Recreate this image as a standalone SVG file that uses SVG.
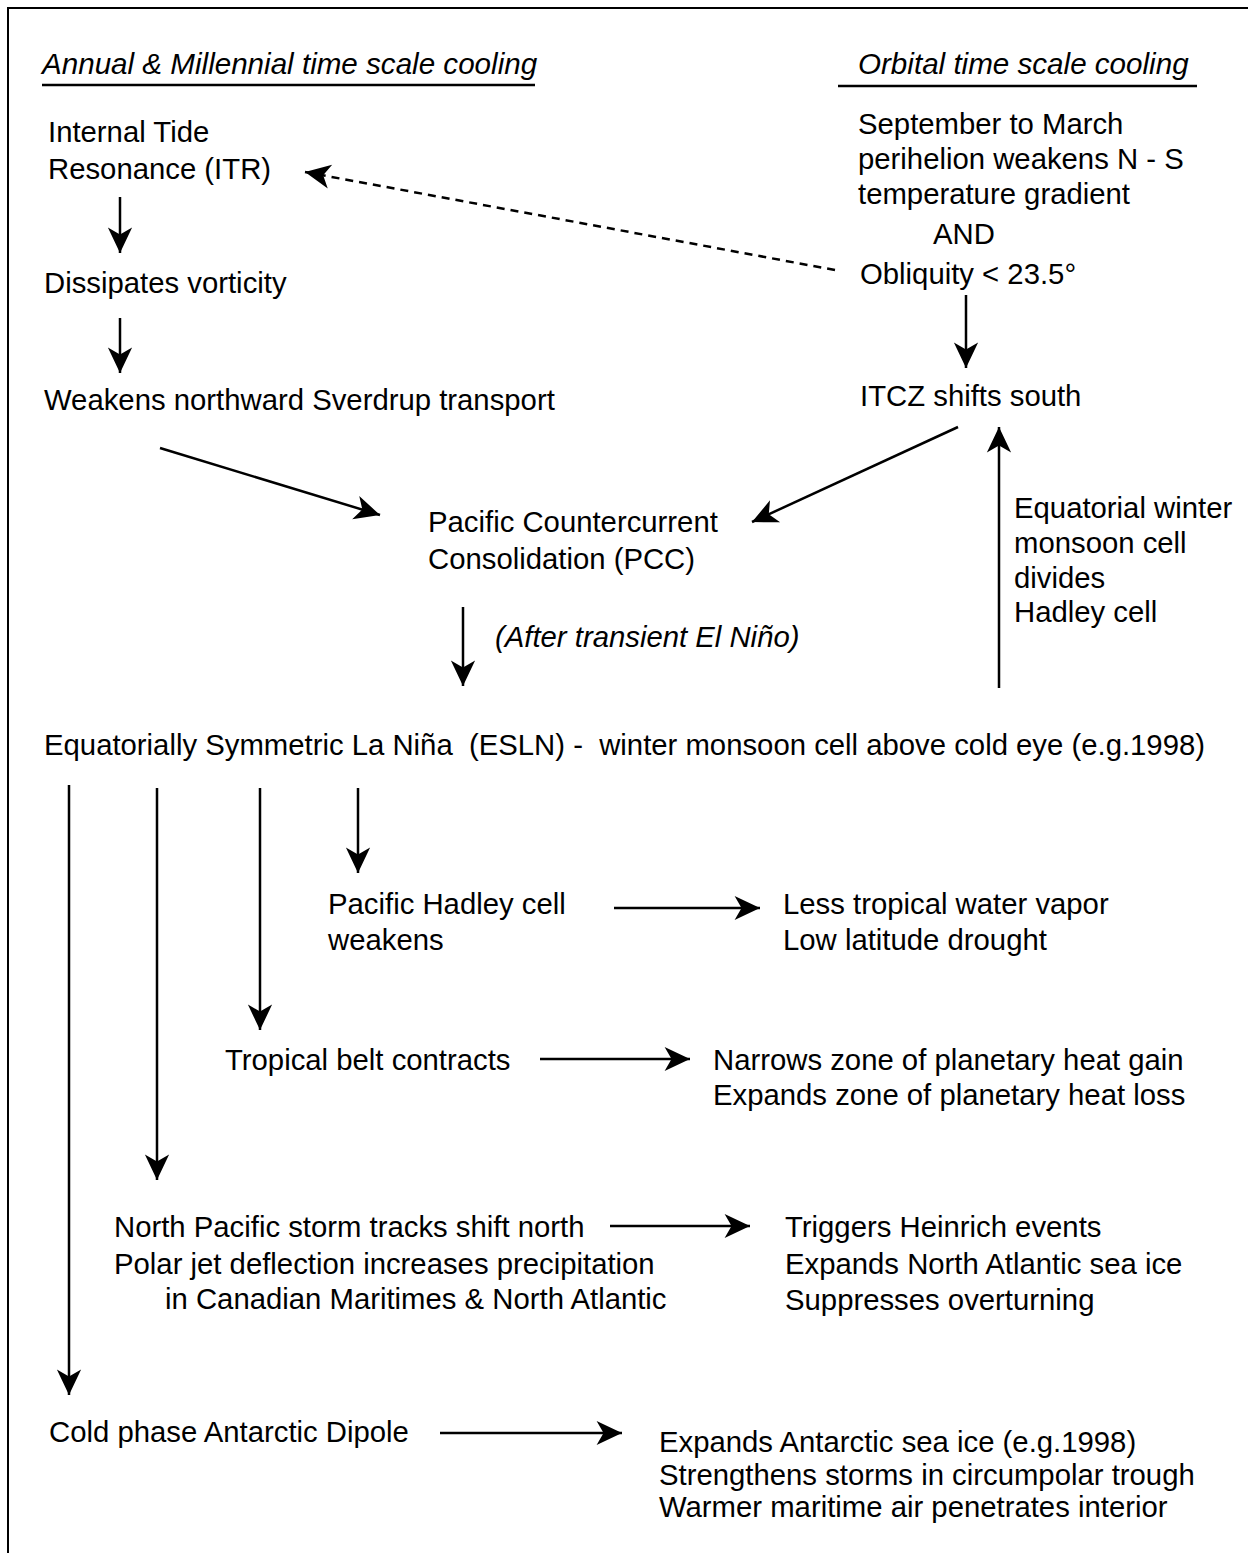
<svg xmlns="http://www.w3.org/2000/svg" width="1248" height="1553" viewBox="0 0 1248 1553">
<style>
text{font-family:"Liberation Sans",Arial,sans-serif;font-size:29.3px;fill:#000}
.it{font-style:italic}
.hd{font-size:29.6px}
.ln{stroke:#000;stroke-width:2.5;fill:none}
.dash{stroke:#000;stroke-width:2.5;fill:none;stroke-dasharray:8 6}
.frame{stroke:#000;stroke-width:2;fill:none}
</style>
<defs>
<marker id="ah" markerUnits="userSpaceOnUse" markerWidth="30" markerHeight="30" viewBox="-24 -12 26 24" refX="0" refY="0" orient="auto">
<path d="M0,0 L-22,-10.5 L-16,0 L-22,10.5 Z" fill="#000"/>
</marker>
</defs>
<rect width="1248" height="1553" fill="#fff"/>
<path class="frame" d="M8,1553 V8 H1248"/>
<g id="headers">
<text class="it hd" x="42" y="74">Annual &amp; Millennial time scale cooling</text>
<line class="ln" x1="42" y1="85" x2="535" y2="85"/>
<text class="it hd" x="858" y="74">Orbital time scale cooling</text>
<line class="ln" x1="838" y1="86" x2="1197" y2="86"/>
</g>
<g id="connectors">
<line class="ln" x1="120" y1="197" x2="120" y2="253" marker-end="url(#ah)"/>
<line class="ln" x1="120" y1="318" x2="120" y2="373" marker-end="url(#ah)"/>
<line class="ln" x1="160" y1="448" x2="380" y2="515" marker-end="url(#ah)"/>
<line class="ln" x1="958" y1="427" x2="752" y2="522" marker-end="url(#ah)"/>
<line class="dash" x1="835" y1="270" x2="305" y2="172" marker-end="url(#ah)"/>
<line class="ln" x1="966" y1="295" x2="966" y2="368" marker-end="url(#ah)"/>
<line class="ln" x1="463" y1="607" x2="463" y2="686" marker-end="url(#ah)"/>
<line class="ln" x1="999" y1="688" x2="999" y2="427" marker-end="url(#ah)"/>
<line class="ln" x1="69" y1="785" x2="69" y2="1395" marker-end="url(#ah)"/>
<line class="ln" x1="157" y1="788" x2="157" y2="1180" marker-end="url(#ah)"/>
<line class="ln" x1="260" y1="788" x2="260" y2="1030" marker-end="url(#ah)"/>
<line class="ln" x1="358" y1="788" x2="358" y2="873" marker-end="url(#ah)"/>
<line class="ln" x1="614" y1="908" x2="760" y2="908" marker-end="url(#ah)"/>
<line class="ln" x1="540" y1="1059" x2="690" y2="1059" marker-end="url(#ah)"/>
<line class="ln" x1="610" y1="1226" x2="750" y2="1226" marker-end="url(#ah)"/>
<line class="ln" x1="440" y1="1433" x2="622" y2="1433" marker-end="url(#ah)"/>
</g>
<g id="itr"><text x="48" y="142">Internal Tide</text><text x="48" y="179">Resonance (ITR)</text></g>
<g id="dissipates"><text x="44" y="293">Dissipates vorticity</text></g>
<g id="sverdrup"><text x="44" y="410">Weakens northward Sverdrup transport</text></g>
<g id="perihelion"><text x="858" y="134">September to March</text><text x="858" y="169">perihelion weakens N - S</text><text x="858" y="204">temperature gradient</text><text x="933" y="244">AND</text><text x="860" y="284">Obliquity &lt; 23.5°</text></g>
<g id="itcz"><text x="860" y="406">ITCZ shifts south</text></g>
<g id="pcc"><text x="428" y="532">Pacific Countercurrent</text><text x="428" y="569">Consolidation (PCC)</text></g>
<g id="elnino"><text class="it" x="495" y="647">(After transient El Niño)</text></g>
<g id="monsoon"><text x="1014" y="518">Equatorial winter</text><text x="1014" y="553">monsoon cell</text><text x="1014" y="588">divides</text><text x="1014" y="622">Hadley cell</text></g>
<g id="esln"><text x="44" y="755" xml:space="preserve">Equatorially Symmetric La Niña  (ESLN) -  winter monsoon cell above cold eye (e.g.1998)</text></g>
<g id="hadley"><text x="328" y="914">Pacific Hadley cell</text><text x="328" y="950">weakens</text></g>
<g id="vapor"><text x="783" y="914">Less tropical water vapor</text><text x="783" y="950">Low latitude drought</text></g>
<g id="tropical"><text x="225" y="1070">Tropical belt contracts</text></g>
<g id="heat"><text x="713" y="1070">Narrows zone of planetary heat gain</text><text x="713" y="1105">Expands zone of planetary heat loss</text></g>
<g id="storm"><text x="114" y="1237">North Pacific storm tracks shift north</text><text x="114" y="1274">Polar jet deflection increases precipitation</text><text x="165" y="1309">in Canadian Maritimes &amp; North Atlantic</text></g>
<g id="heinrich"><text x="785" y="1237">Triggers Heinrich events</text><text x="785" y="1274">Expands North Atlantic sea ice</text><text x="785" y="1310">Suppresses overturning</text></g>
<g id="dipole"><text x="49" y="1442">Cold phase Antarctic Dipole</text></g>
<g id="antarctic"><text x="659" y="1452">Expands Antarctic sea ice (e.g.1998)</text><text x="659" y="1485">Strengthens storms in circumpolar trough</text><text x="659" y="1517">Warmer maritime air penetrates interior</text></g>
</svg>
